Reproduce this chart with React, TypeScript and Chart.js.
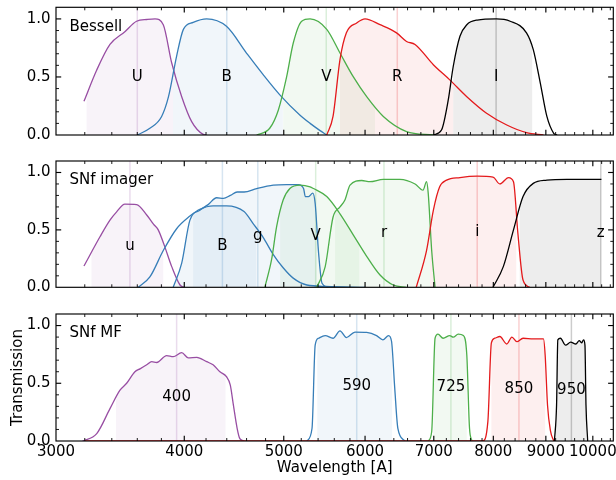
import React, { useEffect, useRef } from 'react';
import { Chart, registerables } from 'chart.js';

Chart.register(...registerables);

type Curve = [number, number][];

// ---- Bessell UBVRI transmission curves (wavelength [A], transmission) ----
const bessellU: Curve = [[3194, 0.29], [3287, 0.56], [3386, 0.78], [3501, 0.89], [3594, 0.98], [3680, 0.995], [3746, 1.0], [3816, 0.95], [3889, 0.62], [3977, 0.33], [4067, 0.115], [4173, 0.005], [4200, 0]];
const bessellB: Curve = [[3600, 0], [3703, 0.058], [3802, 0.16], [3861, 0.33], [3932, 0.68], [3992, 0.91], [4081, 0.97], [4206, 1.0], [4397, 0.936], [4599, 0.706], [4774, 0.52], [4956, 0.346], [5186, 0.17], [5304, 0.1], [5420, 0.04], [5506, 0]];
const bessellV: Curve = [[4705, 0], [4845, 0.058], [4940, 0.216], [5032, 0.5], [5107, 0.79], [5205, 0.98], [5304, 1.0], [5506, 0.91], [5672, 0.706], [5845, 0.5], [6022, 0.33], [6251, 0.16], [6585, 0.03], [6993, 0]];
const bessellR: Curve = [[5506, 0], [5584, 0.16], [5672, 0.65], [5754, 0.88], [5889, 0.965], [6000, 1.0], [6205, 0.95], [6439, 0.88], [6585, 0.806], [6712, 0.78], [6993, 0.605], [7255, 0.475], [7538, 0.33], [7873, 0.19], [8245, 0.086], [8618, 0.02], [8952, 0]];
const bessellI: Curve = [[6993, 0], [7122, 0.043], [7230, 0.3], [7312, 0.59], [7423, 0.85], [7538, 0.95], [7716, 0.99], [8055, 1.0], [8308, 0.98], [8618, 0.88], [8750, 0.735], [8888, 0.45], [9021, 0.16], [9160, 0.015], [9230, 0]];

const bessellNames = ['U', 'B', 'V', 'R', 'I'];
const bessellCenters = [3600, 4400, 5500, 6450, 8050];
const bessellBands: [number, number][] = [[3213, 3900], [3900, 4990], [4993, 6136], [5672, 7312], [7312, 8729]];

// ---- SNf imager ugriz + BV ----
const imagerU: Curve = [[3194, 0.185], [3311, 0.44], [3386, 0.585], [3437, 0.657], [3501, 0.724], [3594, 0.72], [3677, 0.63], [3733, 0.55], [3773, 0.5], [3830, 0.35], [3889, 0.18], [3962, 0.02], [4000, 0]];
const imagerB: Curve = [[3608, 0], [3703, 0.09], [3816, 0.32], [3932, 0.51], [4051, 0.62], [4142, 0.68], [4267, 0.71], [4397, 0.71], [4574, 0.66], [4668, 0.555], [4774, 0.435], [4884, 0.285], [4993, 0.17], [5107, 0.08], [5266, 0.02], [5500, 0.008], [6000, 0]];
const imagerG: Curve = [[3902, 0], [3977, 0.21], [4051, 0.585], [4142, 0.672], [4220, 0.72], [4301, 0.78], [4367, 0.775], [4435, 0.8], [4504, 0.83], [4574, 0.83], [4705, 0.86], [4884, 0.89], [5032, 0.895], [5167, 0.895], [5227, 0.86], [5248, 0.79], [5286, 0.79], [5336, 0.82], [5365, 0.73], [5406, 0.3], [5448, 0.035], [5520, 0]];
const imagerV: Curve = [[4792, 0], [4865, 0.24], [4921, 0.53], [4993, 0.76], [5069, 0.86], [5186, 0.89], [5304, 0.875], [5345, 0.86], [5506, 0.79], [5672, 0.64], [5845, 0.455], [6022, 0.27], [6205, 0.107], [6391, 0.02], [6585, 0]];
const imagerR: Curve = [[5383, 0], [5487, 0.18], [5584, 0.61], [5672, 0.7], [5735, 0.76], [5801, 0.89], [5955, 0.93], [6066, 0.92], [6251, 0.94], [6488, 0.94], [6712, 0.9], [6833, 0.846], [6887, 0.92], [6913, 0.82], [6967, 0.32], [7020, 0]];
const imagerI: Curve = [[6730, 0], [6887, 0.32], [6993, 0.67], [7093, 0.875], [7204, 0.933], [7423, 0.956], [7716, 0.968], [7995, 0.96], [8118, 0.9], [8277, 0.956], [8370, 0.92], [8453, 0.47], [8551, 0.063], [8680, 0]];
const imagerZ: Curve = [[7995, 0], [8181, 0.18], [8370, 0.5], [8551, 0.79], [8750, 0.905], [9021, 0.933], [9434, 0.94], [10195, 0.94]];

const imagerNames = ['u', 'B', 'g', 'V', 'r', 'i', 'z'];
const imagerCenters = [3541, 4357, 4717, 5371, 6260, 7716, 10180];
const imagerBands: [number, number][] = [[3249, 3816], [4081, 4700], [3802, 5383], [4960, 5922], [5610, 6940], [6940, 8422], [8487, 10180]];

// ---- SNf multi-filter (MF) ----
const mf400: Curve = [[3184, 0], [3287, 0.064], [3386, 0.28], [3463, 0.44], [3515, 0.5], [3581, 0.6], [3622, 0.625], [3677, 0.66], [3718, 0.687], [3760, 0.68], [3845, 0.74], [3902, 0.73], [3977, 0.765], [4036, 0.72], [4114, 0.725], [4206, 0.687], [4267, 0.66], [4333, 0.6], [4397, 0.557], [4435, 0.484], [4466, 0.31], [4504, 0.108], [4531, 0.02], [4574, 0]];
const mf590: Curve = [[5266, 0], [5327, 0.108], [5365, 0.83], [5406, 0.89], [5487, 0.913], [5584, 0.89], [5672, 0.954], [5754, 0.896], [5866, 0.943], [6022, 0.94], [6157, 0.913], [6244, 0.876], [6325, 0.913], [6367, 0.864], [6413, 0.458], [6458, 0.11], [6560, 0]];
const mf725: Curve = [[6913, 0], [6967, 0.08], [7020, 0.89], [7066, 0.925], [7148, 0.89], [7255, 0.913], [7312, 0.9], [7394, 0.925], [7480, 0.913], [7538, 0.745], [7584, 0.11], [7626, 0]];
const mf850: Curve = [[3200, 0], [7812, 0], [7903, 0.17], [7965, 0.85], [8026, 0.89], [8118, 0.905], [8245, 0.84], [8340, 0.9], [8434, 0.86], [8551, 0.89], [8750, 0.884], [8952, 0.884], [8986, 0.745], [9034, 0.31], [9094, 0.087], [9160, 0]];
const mf950: Curve = [[9175, 0], [9219, 0.31], [9245, 0.876], [9300, 0.89], [9407, 0.83], [9516, 0.856], [9626, 0.84], [9700, 0.87], [9750, 0.85], [9795, 0.876], [9825, 0.83], [9848, 0.31], [9885, 0]];

const mfNames = ['400', '590', '725', '850', '950'];
const mfCenters = [3932, 5889, 7274, 8473, 9531];
const mfBands: [number, number][] = [[3432, 4387], [5390, 6375], [6993, 7538], [7965, 8986], [9197, 9848]];

// ---- axes ----
const xMajorTicks = [3000, 4000, 5000, 6000, 7000, 8000, 9000, 10000];
const xMinorStep = 200;
const yMajorTicks = [0, 0.5, 1.0];
const yMinorStep = 0.1;
const X_MIN = 3000;
const X_MAX = 10470;
const Y_MIN = 0;
const Y_MAX = 1.1;

const PURPLE = '#984ea3';
const BLUE = '#377eb8';
const GREEN = '#4daf4a';
const RED = '#e41a1c';
const BLACK = '#000000';

const FONT_FAMILY = '"DejaVu Sans", "Liberation Sans", sans-serif';
const FONT_SIZE = 15;

interface PanelData {
  title: string;
  names: string[];
  curves: Curve[];
  centers: number[];
  bands: [number, number][];
  colors: string[];
}

const panels: PanelData[] = [
  {
    title: 'Bessell',
    names: bessellNames,
    curves: [bessellU, bessellB, bessellV, bessellR, bessellI],
    centers: bessellCenters,
    bands: bessellBands,
    colors: [PURPLE, BLUE, GREEN, RED, BLACK],
  },
  {
    title: 'SNf imager',
    names: imagerNames,
    curves: [imagerU, imagerB, imagerG, imagerV, imagerR, imagerI, imagerZ],
    centers: imagerCenters,
    bands: imagerBands,
    colors: [PURPLE, BLUE, BLUE, GREEN, GREEN, RED, BLACK],
  },
  {
    title: 'SNf MF',
    names: mfNames,
    curves: [mf400, mf590, mf725, mf850, mf950],
    centers: mfCenters,
    bands: mfBands,
    colors: [PURPLE, BLUE, GREEN, RED, BLACK],
  },
];

interface PanelLayout {
  top: number;
  height: number;
  padTop: number;
  padBottom: number;
  bottomAxis: boolean;
}

const layouts: PanelLayout[] = [
  { top: 0, height: 148, padTop: 7.3, padBottom: 13, bottomAxis: false },
  { top: 148, height: 153, padTop: 13, padBottom: 13.7, bottomAxis: false },
  { top: 301, height: 179, padTop: 13, padBottom: 0, bottomAxis: true },
];

const Y_AXIS_WIDTH = 56;
const X_AXIS_HEIGHT = 39;
const PAD_RIGHT = 2.7;

function rgba(hex: string, a: number): string {
  const n = parseInt(hex.slice(1), 16);
  return `rgba(${(n >> 16) & 255}, ${(n >> 8) & 255}, ${n & 255}, ${a})`;
}

function buildConfig(panel: PanelData, layout: PanelLayout): any {
  const n = panel.curves.length;
  const font = { family: FONT_FAMILY, size: FONT_SIZE };

  const curveSets = panel.curves.map((c, i) => ({
    label: panel.names[i],
    data: c.map(([x, y]) => ({ x, y })),
    borderColor: panel.colors[i],
    borderWidth: 1.3,
    pointRadius: 0,
    fill: false,
    cubicInterpolationMode: 'monotone',
    order: -i,
  }));

  const centerSets = panel.centers.map((c, i) => ({
    label: panel.names[i] + ' center',
    data: [{ x: c, y: Y_MIN }, { x: c, y: Y_MAX }],
    borderColor: rgba(panel.colors[i], 0.2),
    borderWidth: 1.5,
    pointRadius: 0,
    fill: false,
    order: 10,
  }));

  // shaded passbands under each curve, limited to the band edges
  const bandFill = {
    id: 'bandFill',
    beforeDatasetsDraw(chart: any) {
      const { ctx, chartArea, scales } = chart;
      for (let i = 0; i < n; i++) {
        const meta = chart.getDatasetMeta(i);
        const line = meta.dataset;
        const pts = meta.data;
        if (!line || !pts.length) continue;
        const [lo, hi] = panel.bands[i];
        const xl = scales.x.getPixelForValue(lo);
        const xh = scales.x.getPixelForValue(hi);
        const y0 = scales.y.getPixelForValue(0);
        ctx.save();
        ctx.beginPath();
        ctx.rect(xl, chartArea.top, xh - xl, chartArea.bottom - chartArea.top);
        ctx.clip();
        ctx.beginPath();
        line.path(ctx);
        ctx.lineTo(pts[pts.length - 1].x, y0);
        ctx.lineTo(pts[0].x, y0);
        ctx.closePath();
        ctx.fillStyle = rgba(panel.colors[i], 0.07);
        ctx.fill();
        ctx.restore();
      }
    },
  };

  // filter names and panel title
  const labels = {
    id: 'filterLabels',
    afterDatasetsDraw(chart: any) {
      const { ctx, chartArea, scales } = chart;
      ctx.save();
      ctx.font = `${FONT_SIZE}px ${FONT_FAMILY}`;
      ctx.fillStyle = '#000';
      ctx.textBaseline = 'middle';
      ctx.textAlign = 'center';
      panel.curves.forEach((c, i) => {
        const peak = Math.max(...c.map((p) => p[1]));
        ctx.fillText(panel.names[i], scales.x.getPixelForValue(panel.centers[i]), scales.y.getPixelForValue(peak / 2));
      });
      ctx.textAlign = 'left';
      ctx.fillText(panel.title, chartArea.left + 13.5, chartArea.top + 19.5);
      ctx.restore();
    },
  };

  // frame with inward ticks on all four sides
  const frame = {
    id: 'frame',
    afterDraw(chart: any) {
      const { ctx, chartArea: a, scales } = chart;
      const majorLen = 5.2;
      const minorLen = 3;
      ctx.save();
      ctx.strokeStyle = '#000';
      const tick = (x1: number, y1: number, x2: number, y2: number, w: number) => {
        ctx.lineWidth = w;
        ctx.beginPath();
        ctx.moveTo(x1, y1);
        ctx.lineTo(x2, y2);
        ctx.stroke();
      };
      for (let v = X_MIN; v <= X_MAX; v += xMinorStep) {
        const major = xMajorTicks.includes(v);
        const x = scales.x.getPixelForValue(v);
        if (x <= a.left + 0.5 || x >= a.right - 0.5) continue;
        const len = major ? majorLen : minorLen;
        const w = major ? 1.15 : 0.9;
        tick(x, a.bottom, x, a.bottom - len, w);
        tick(x, a.top, x, a.top + len, w);
      }
      const nMinor = Math.round((Y_MAX - Y_MIN) / yMinorStep);
      for (let k = 0; k <= nMinor; k++) {
        const v = Y_MIN + k * yMinorStep;
        const major = yMajorTicks.some((t) => Math.abs(t - v) < 1e-6);
        const y = scales.y.getPixelForValue(v);
        if (y <= a.top + 0.5 || y >= a.bottom - 0.5) continue;
        const len = major ? majorLen : minorLen;
        const w = major ? 1.15 : 0.9;
        tick(a.left, y, a.left + len, y, w);
        tick(a.right, y, a.right - len, y, w);
      }
      ctx.lineWidth = 1.15;
      ctx.strokeRect(a.left, a.top, a.right - a.left, a.bottom - a.top);
      ctx.restore();
    },
  };

  return {
    type: 'line',
    data: { datasets: [...curveSets, ...centerSets] },
    options: {
      animation: false,
      responsive: false,
      devicePixelRatio: 1,
      events: [],
      layout: {
        autoPadding: false,
        padding: { left: 0, right: PAD_RIGHT, top: layout.padTop, bottom: layout.padBottom },
      },
      plugins: { legend: { display: false }, tooltip: { enabled: false } },
      scales: {
        x: {
          type: 'logarithmic',
          min: X_MIN,
          max: X_MAX,
          display: layout.bottomAxis,
          afterBuildTicks: (s: any) => {
            s.ticks = xMajorTicks.map((v) => ({ value: v }));
          },
          afterFit: (s: any) => {
            if (layout.bottomAxis) s.height = X_AXIS_HEIGHT;
            s.paddingLeft = 0;
            s.paddingRight = 0;
            s.paddingTop = 0;
            s.paddingBottom = 0;
          },
          grid: { display: false, drawTicks: false },
          border: { display: false },
          ticks: {
            font,
            color: '#000',
            padding: 2,
            autoSkip: false,
            maxRotation: 0,
            minRotation: 0,
            callback: (v: any) => String(v),
          },
          title: {
            display: layout.bottomAxis,
            text: 'Wavelength [A]',
            font,
            color: '#000',
            padding: { top: 0, bottom: 2.5 },
          },
        },
        y: {
          type: 'linear',
          min: Y_MIN,
          max: Y_MAX,
          afterBuildTicks: (s: any) => {
            s.ticks = yMajorTicks.map((v) => ({ value: v }));
          },
          afterFit: (s: any) => {
            s.width = Y_AXIS_WIDTH;
            s.paddingLeft = 0;
            s.paddingRight = 0;
            s.paddingTop = 0;
            s.paddingBottom = 0;
          },
          grid: { display: false, drawTicks: false },
          border: { display: false },
          ticks: {
            font,
            color: '#000',
            padding: 5.5,
            callback: (v: any) => Number(v).toFixed(1),
          },
          title: {
            display: layout.bottomAxis,
            text: 'Transmission',
            font,
            color: '#000',
            padding: { top: 9.5, bottom: 0 },
          },
        },
      },
    },
    plugins: [bandFill, labels, frame],
  };
}

function FilterPanel({ panel, layout }: { panel: PanelData; layout: PanelLayout }) {
  const ref = useRef<HTMLCanvasElement>(null);
  useEffect(() => {
    if (!ref.current) return;
    const chart = new Chart(ref.current, buildConfig(panel, layout));
    return () => chart.destroy();
  }, [panel, layout]);
  return (
    <canvas
      ref={ref}
      width={616}
      height={layout.height}
      style={{ position: 'absolute', left: 0, top: layout.top, width: 616, height: layout.height, display: 'block' }}
    />
  );
}

export default function App() {
  return (
    <div style={{ position: 'absolute', left: 0, top: 0, width: 616, height: 480, background: '#fff' }}>
      {panels.map((p, i) => (
        <FilterPanel key={p.title} panel={p} layout={layouts[i]} />
      ))}
    </div>
  );
}
